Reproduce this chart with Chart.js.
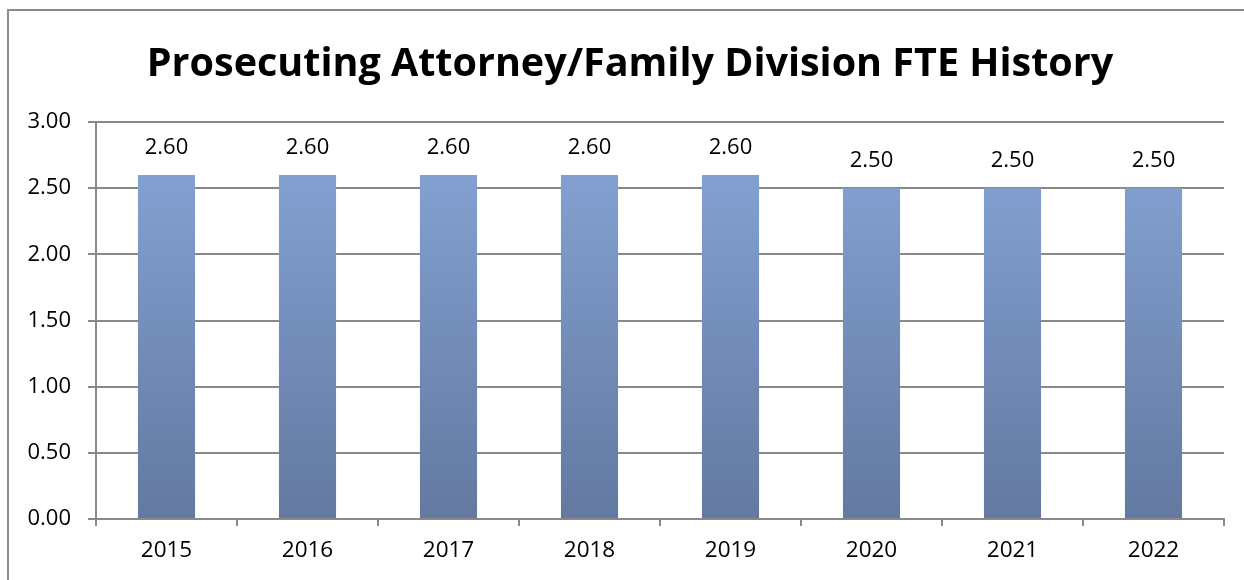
<!DOCTYPE html>
<html><head><meta charset="utf-8">
<script src="https://cdn.jsdelivr.net/npm/chart.js@4"></script>
<style>html,body{margin:0;padding:0;background:#fff;overflow:hidden}#wrap{width:1244px;height:580px;position:relative}</style>
</head><body><div id="wrap"><canvas id="c" width="1244" height="580"></canvas></div>
<script>
const categories = ['2015','2016','2017','2018','2019','2020','2021','2022'];
const fteValues = [2.60, 2.60, 2.60, 2.60, 2.60, 2.50, 2.50, 2.50];
const yTicks = [0, 0.5, 1, 1.5, 2, 2.5, 3];
const chartTitle = 'Prosecuting Attorney/Family Division FTE History';

const FONT = "'Open Sans', sans-serif";
const GRID = '#898989';

const borderPlugin = {
  id: 'outerBorder',
  beforeDraw(chart) {
    const ctx = chart.ctx;
    ctx.save();
    ctx.fillStyle = '#fff';
    ctx.fillRect(0, 0, chart.width, chart.height);
    ctx.strokeStyle = '#8c8c8c';
    ctx.lineWidth = 2;
    ctx.strokeRect(8, 10, chart.width + 20, chart.height + 20);
    ctx.restore();
  }
};

const titlePlugin = {
  id: 'bigTitle',
  afterDraw(chart) {
    const ctx = chart.ctx;
    ctx.save();
    ctx.font = "bold 39.5px " + FONT;
    ctx.fillStyle = '#000';
    ctx.textAlign = 'center';
    ctx.textBaseline = 'alphabetic';
    ctx.fillText(chartTitle, 630, 76);
    ctx.restore();
  }
};

const labelPlugin = {
  id: 'valueLabels',
  afterDatasetsDraw(chart) {
    const ctx = chart.ctx;
    const meta = chart.getDatasetMeta(0);
    ctx.save();
    ctx.font = "22px " + FONT;
    ctx.fillStyle = '#000';
    ctx.textAlign = 'center';
    ctx.textBaseline = 'middle';
    meta.data.forEach((bar, i) => {
      ctx.fillText(fteValues[i].toFixed(2), bar.x, bar.y - 27);
    });
    ctx.restore();
  }
};

new Chart(document.getElementById('c'), {
  type: 'bar',
  data: {
    labels: categories,
    datasets: [{
      data: fteValues,
      backgroundColor(ctx) {
        const ca = ctx.chart.chartArea;
        if (!ca) return '#7a96c4';
        const g = ctx.chart.ctx.createLinearGradient(0, ca.top, 0, ca.bottom);
        g.addColorStop(0, '#87a6d8');
        g.addColorStop(1, '#6379a0');
        return g;
      },
      borderWidth: 0,
      categoryPercentage: 1,
      barPercentage: 0.405
    }]
  },
  options: {
    responsive: false,
    animation: false,
    layout: { padding: { left: 0, right: 20, top: 122, bottom: 0 } },
    plugins: {
      legend: { display: false },
      tooltip: { enabled: false },
      title: { display: false }
    },
    scales: {
      x: {
        grid: { display: true, drawOnChartArea: false, offset: true, color: GRID, lineWidth: 2, tickLength: 7 },
        border: { display: true, color: GRID, width: 2 },
        ticks: { color: '#000', font: { family: FONT, size: 22.5 }, padding: 11, maxRotation: 0 },
        afterFit(s) { s.height = 61; }
      },
      y: {
        min: 0, max: 3,
        afterBuildTicks(s) { s.ticks = yTicks.map(v => ({ value: v })); },
        grid: { color: GRID, lineWidth: 2, tickLength: 8 },
        border: { display: true, color: GRID, width: 2 },
        ticks: { color: '#000', font: { family: FONT, size: 22 }, padding: 17, callback: v => Number(v).toFixed(2) },
        afterFit(s) { s.width = 96; }
      }
    }
  },
  plugins: [borderPlugin, labelPlugin, titlePlugin]
});
</script></body></html>
